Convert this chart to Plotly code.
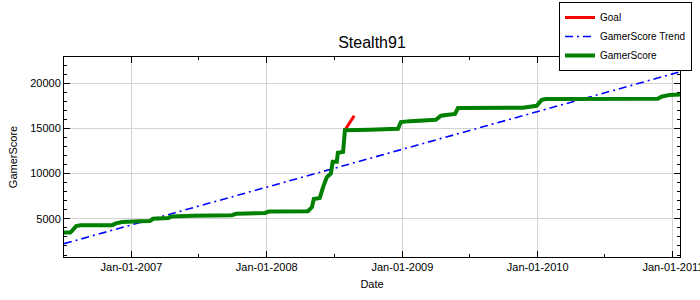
import plotly.graph_objects as go

# GamerScore (stepwise)
score_dates = ["2006-07-03", "2006-07-20", "2006-07-25", "2006-08-05", "2006-08-16", "2006-11-10",
               "2006-11-20", "2006-12-07", "2007-01-24", "2007-02-20", "2007-02-28", "2007-04-10",
               "2007-04-19", "2007-06-16", "2007-09-29", "2007-10-10", "2007-12-27", "2008-01-07",
               "2008-04-21", "2008-05-02", "2008-05-07", "2008-05-23", "2008-06-01", "2008-06-11",
               "2008-06-22", "2008-06-27", "2008-07-08", "2008-07-11", "2008-07-25", "2008-07-30",
               "2008-10-05", "2008-12-20", "2008-12-28", "2009-01-22", "2009-04-01", "2009-04-15",
               "2009-05-23", "2009-05-31", "2009-11-22", "2009-12-29", "2010-01-12", "2010-01-23",
               "2010-11-21", "2010-12-01", "2010-12-23", "2011-01-20"]
score_values = [3500, 3500, 3700, 4200, 4280, 4300,
                4500, 4650, 4720, 4750, 5000, 5100,
                5250, 5350, 5400, 5550, 5650, 5800,
                5850, 6300, 7200, 7300, 8500, 9600,
                10000, 11300, 11300, 12300, 12400, 14800,
                14850, 14950, 15700, 15800, 15950, 16400,
                16600, 17250, 17280, 17500, 18150, 18250,
                18270, 18500, 18700, 18750]

goal_dates = ["2008-07-30", "2008-08-24"]
goal_values = [14800, 16400]

trend_dates = ["2006-07-03", "2011-01-20"]
trend_values = [2250, 21250]

fig = go.Figure()
fig.add_trace(go.Scatter(x=goal_dates, y=goal_values, mode="lines", name="Goal",
                         line=dict(color="#ff0000", width=3)))
fig.add_trace(go.Scatter(x=trend_dates, y=trend_values, mode="lines", name="GamerScore Trend",
                         line=dict(color="#0000ff", width=1.6, dash="8px,4px,2px,4px")))
fig.add_trace(go.Scatter(x=score_dates, y=score_values, mode="lines", name="GamerScore",
                         line=dict(color="#008000", width=4)))

font = "Arial, Liberation Sans, sans-serif"
fig.update_layout(
    width=700, height=300,
    margin=dict(l=64, r=20, t=57, b=43, autoexpand=False),
    paper_bgcolor="white", plot_bgcolor="white",
    font=dict(family=font, size=11, color="#000000"),
    title=dict(text="Stealth91", x=(372 / 700), xanchor="center", y=1 - 42 / 300, yanchor="middle",
               font=dict(size=16, color="#000000")),
    legend=dict(x=(692 - 64) / 616, y=1 + 55 / 200, xanchor="right", yanchor="top",
                bordercolor="black", borderwidth=1, bgcolor="white",
                font=dict(size=10), tracegroupgap=0, itemwidth=30),
    showlegend=True,
)
fig.update_xaxes(
    range=["2006-07-03", "2011-01-20"], type="date", automargin=False,
    ticklabeloverflow="allow",
    tickformat="%b-%d-%Y", dtick="M12", tick0="2007-01-01",
    ticks="inside", ticklen=6, tickcolor="black",
    minor=dict(dtick="M6", tick0="2007-01-01", ticks="inside", ticklen=3, tickcolor="black", showgrid=False),
    showgrid=True, gridcolor="#d3d3d3", gridwidth=1,
    showline=True, linecolor="black", linewidth=1, mirror="allticks",
    title=dict(text="Date", font=dict(size=11), standoff=8),
    tickfont=dict(size=11), zeroline=False,
)
fig.update_yaxes(
    range=[780, 22890], dtick=5000, tick0=0, tickformat="d", automargin=False,
    ticks="inside", ticklen=6, tickcolor="black",
    minor=dict(dtick=1000, ticks="inside", ticklen=3, tickcolor="black", showgrid=False),
    showgrid=True, gridcolor="#d3d3d3", gridwidth=1,
    showline=True, linecolor="black", linewidth=1, mirror="allticks",
    title=dict(text="GamerScore", font=dict(size=11), standoff=10),
    tickfont=dict(size=11), zeroline=False,
)

fig.write_html("out.html")
